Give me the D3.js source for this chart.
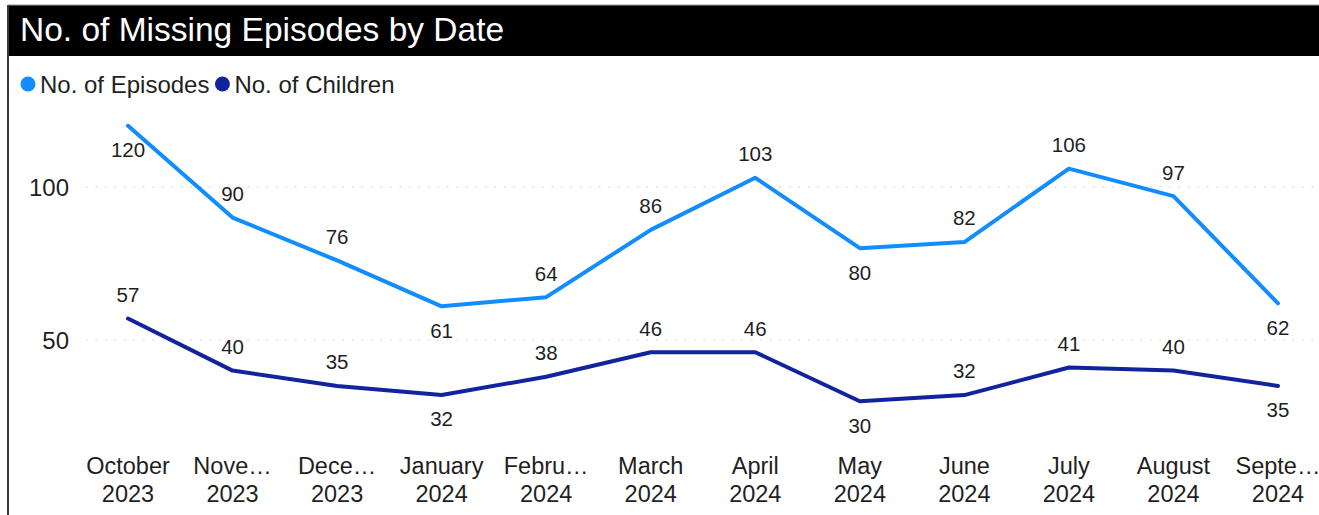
<!DOCTYPE html>
<html>
<head>
<meta charset="utf-8">
<script src="https://cdn.jsdelivr.net/npm/d3@7"></script>
<style>
  html, body { margin: 0; padding: 0; background: #fff; }
  svg { display: block; font-family: "Liberation Sans", Arial, sans-serif; }
</style>
</head>
<body>
<div class="canvas"></div>
<script>
// data.
const months = ['October', 'Nove…', 'Dece…', 'January', 'Febru…', 'March', 'April', 'May', 'June', 'July', 'August', 'Septe…'];
const years = ['2023', '2023', '2023', '2024', '2024', '2024', '2024', '2024', '2024', '2024', '2024', '2024'];
const episodes = [120, 90, 76, 61, 64, 86, 103, 80, 82, 106, 97, 62];
const children = [57, 40, 35, 32, 38, 46, 46, 30, 32, 41, 40, 35];
// label placement: 1 = above the point, -1 = below.
const episodesLabelSide = [-1, 1, 1, -1, 1, 1, 1, -1, 1, 1, 1, -1];
const childrenLabelSide = [1, 1, 1, -1, 1, 1, 1, -1, 1, 1, 1, -1];
const yTicks = [50, 100];
const seriesNames = ['No. of Episodes', 'No. of Children'];

// dimensions.
const svgDimensions = { width: 1319, height: 515 };
const colors = { episodes: '#118DFF', children: '#12239E', text: '#1f1f1f' };

const svg = d3.select('.canvas')
    .append('svg')
        .attr('width', svgDimensions.width)
        .attr('height', svgDimensions.height);

// frame and title bar.
svg.append('rect')
    .attr('x', 8).attr('y', 5)
    .attr('width', svgDimensions.width - 8).attr('height', 51)
    .attr('fill', '#000');
svg.append('line')
    .attr('x1', 8).attr('x2', svgDimensions.width)
    .attr('y1', 5).attr('y2', 5)
    .attr('stroke', '#9a9a9a').attr('stroke-width', 1);
svg.append('line')
    .attr('x1', 8).attr('x2', 8)
    .attr('y1', 5).attr('y2', svgDimensions.height)
    .attr('stroke', '#3a3a3a').attr('stroke-width', 2);

svg.append('text')
    .attr('x', 20).attr('y', 41)
    .attr('fill', '#fff')
    .attr('font-size', 33.5)
    .text('No. of Missing Episodes by Date');

// legend.
const legendColors = d3.scaleOrdinal()
    .domain(seriesNames)
    .range([colors.episodes, colors.children]);

const legendGroup = svg.append('g')
    .attr('transform', 'translate(28,84)');
let legendX = 0;
seriesNames.forEach(name => {
    const item = legendGroup.append('g')
        .attr('transform', `translate(${legendX},0)`);
    item.append('circle')
        .attr('r', 7.5)
        .attr('fill', legendColors(name));
    const label = item.append('text')
        .attr('x', 12).attr('y', 8.5)
        .attr('font-size', 24)
        .attr('fill', colors.text)
        .text(name);
    legendX += 12 + label.node().getComputedTextLength() + 13;
});

// scales.
const x = d3.scalePoint()
    .domain(d3.range(months.length))
    .range([128, 1278]);

const y = d3.scaleLinear()
    .domain([0, 100])
    .range([493, 187]);

// gridlines and y axis labels.
const grid = svg.append('g');
grid.selectAll('line')
    .data(yTicks)
    .enter()
    .append('line')
        .attr('x1', 86).attr('x2', svgDimensions.width)
        .attr('y1', d => y(d)).attr('y2', d => y(d))
        .attr('stroke', '#c8c8c8')
        .attr('stroke-width', 1.2)
        .attr('stroke-dasharray', '1.5,8');
grid.selectAll('text')
    .data(yTicks)
    .enter()
    .append('text')
        .attr('x', 69)
        .attr('y', d => y(d))
        .attr('dy', '0.36em')
        .attr('text-anchor', 'end')
        .attr('font-size', 24)
        .attr('fill', colors.text)
        .text(d => d);

// x axis labels.
const xLabels = svg.append('g');
xLabels.selectAll('text')
    .data(d3.range(months.length))
    .enter()
    .append('text')
        .attr('text-anchor', 'middle')
        .attr('font-size', 23.5)
        .attr('fill', colors.text)
        .each(function(i){
            const t = d3.select(this);
            t.append('tspan').attr('x', x(i)).attr('y', 474).text(months[i]);
            t.append('tspan').attr('x', x(i)).attr('y', 502).text(years[i]);
        });

// lines and data labels.
const lineGenerator = d3.line()
    .x((d, i) => x(i))
    .y(d => y(d));

const series = [
    { values: episodes, sides: episodesLabelSide, color: colors.episodes },
    { values: children, sides: childrenLabelSide, color: colors.children }
];

series.forEach(s => {
    svg.append('path')
        .datum(s.values)
        .attr('d', lineGenerator)
        .attr('fill', 'none')
        .attr('stroke', s.color)
        .attr('stroke-width', 4)
        .attr('stroke-linejoin', 'round')
        .attr('stroke-linecap', 'round');

    svg.append('g')
        .selectAll('text')
        .data(s.values)
        .enter()
        .append('text')
            .attr('x', (d, i) => x(i))
            .attr('y', (d, i) => y(d) - 24 * s.sides[i])
            .attr('dy', '0.36em')
            .attr('text-anchor', 'middle')
            .attr('font-size', 20.5)
            .attr('fill', colors.text)
            .text(d => d);
});
</script>
</body>
</html>
